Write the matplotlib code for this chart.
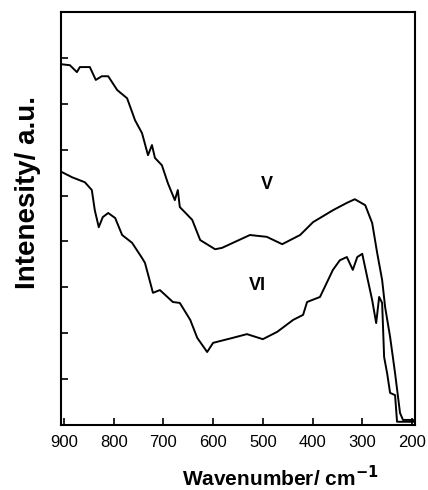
import matplotlib
matplotlib.use('Agg')
import matplotlib.pyplot as plt
import numpy as np

plt.rcParams['font.family'] = ['Liberation Sans', 'DejaVu Sans']

# spectrum V (upper trace)
wn_v = [904, 888, 874, 868, 848, 836, 824, 811, 793, 773, 757, 743, 731, 723,
        717, 703, 691, 677, 671, 667, 642, 626, 596, 582, 556, 526, 492, 461,
        425, 399, 359, 331, 315, 294, 280, 270, 260, 254, 244, 234, 224, 218, 198]
int_v = [7.86, 7.84, 7.69, 7.80, 7.80, 7.52, 7.60, 7.60, 7.30, 7.12, 6.64, 6.36, 5.88, 6.10,
         5.82, 5.66, 5.27, 4.90, 5.12, 4.75, 4.47, 4.03, 3.83, 3.86, 3.99, 4.14, 4.10, 3.94,
         4.14, 4.42, 4.68, 4.84, 4.92, 4.79, 4.40, 3.75, 3.16, 2.57, 1.92, 1.13, 0.26, 0.11, 0.11]

# spectrum VI (lower trace)
wn_vi = [904, 884, 858, 844, 838, 830, 822, 811, 797, 783, 763, 743, 737, 721,
         707, 681, 667, 646, 632, 612, 600, 560, 532, 500, 471, 439, 419, 411,
         385, 359, 345, 331, 319, 310, 300, 290, 280, 272, 266, 260, 256, 250,
         244, 234, 230, 194]
int_vi = [5.51, 5.40, 5.29, 5.12, 4.68, 4.31, 4.53, 4.62, 4.51, 4.14, 3.97, 3.64, 3.53, 2.88,
          2.94, 2.68, 2.66, 2.29, 1.90, 1.59, 1.79, 1.90, 1.98, 1.87, 2.03, 2.29, 2.40, 2.68,
          2.79, 3.38, 3.59, 3.66, 3.38, 3.66, 3.73, 3.22, 2.72, 2.22, 2.79, 2.66, 1.48, 1.13,
          0.70, 0.65, 0.07, 0.07]

xticks = [900, 800, 700, 600, 500, 400, 300, 200]

fig = plt.figure(figsize=(4.28, 4.90), dpi=100)
ax = fig.add_axes([0.1425, 0.1327, 0.827, 0.8428])

ax.plot(wn_v, int_v, color='black', lw=1.4)
ax.plot(wn_vi, int_vi, color='black', lw=1.4)

ax.text(492, 5.23, 'V', fontsize=13, fontweight='bold', ha='center', va='center')
ax.text(510, 3.05, 'VI', fontsize=13, fontweight='bold', ha='center', va='center')

ax.set_xlim(906, 194)
ax.set_ylim(0, 9)
ax.set_xticks(xticks)
ax.set_yticks(np.arange(0, 10))
ax.set_yticklabels([])
ax.tick_params(direction='in', length=5, width=1.2, labelsize=12, pad=7)
for s in ax.spines.values():
    s.set_linewidth(1.5)

ax.set_xlabel('Wavenumber/ cm$^{\\mathbf{-1}}$', fontsize=15, fontweight='bold')
ax.xaxis.set_label_coords(0.62, -0.128)
ax.xaxis.label.set_va('center')
ax.set_ylabel('Intenesity/ a.u.', fontsize=20, fontweight='bold')
ax.yaxis.set_label_coords(-0.093, 0.564)
ax.yaxis.label.set_va('center')

fig.savefig('out.png', dpi=100)
